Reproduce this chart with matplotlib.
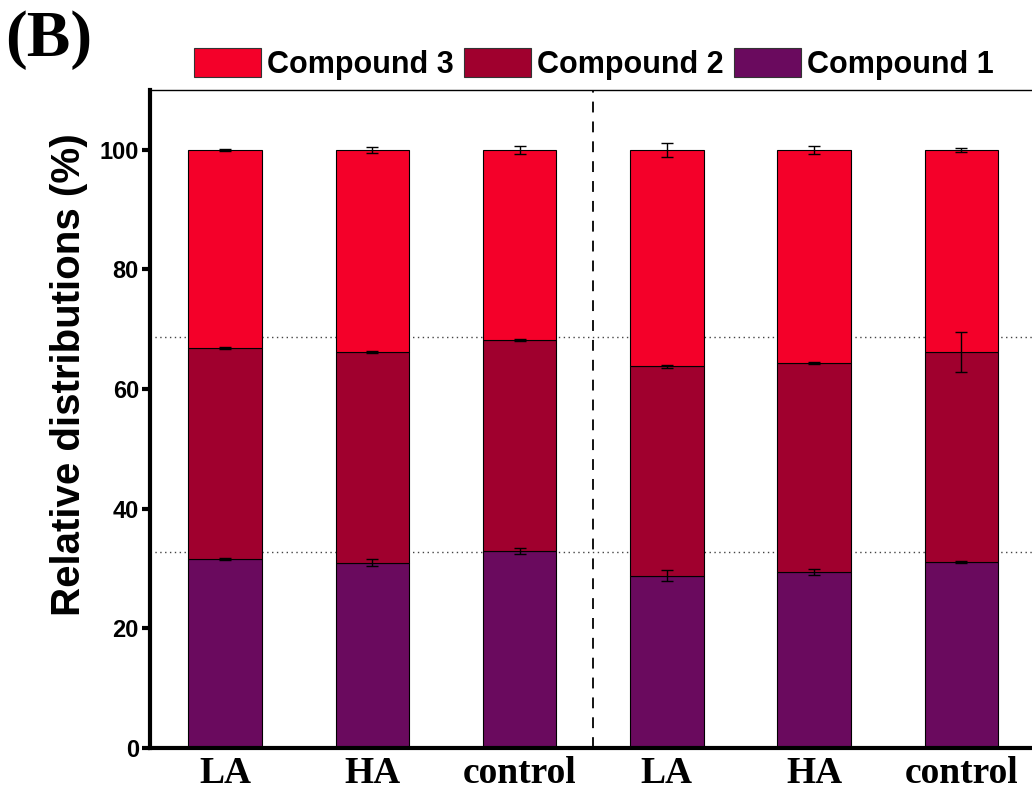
import matplotlib
matplotlib.use("Agg")
import matplotlib.pyplot as plt
import numpy as np
from matplotlib.patches import Patch

categories = ['LA', 'HA', 'control', 'LA', 'HA', 'control']
compound1 = [31.6, 31.0, 32.9, 28.8, 29.4, 31.1]
compound2 = [35.3, 35.2, 35.3, 35.0, 35.0, 35.1]
compound3 = [33.1, 33.8, 31.8, 36.2, 35.6, 33.8]
err1 = [0.15, 0.6, 0.5, 0.9, 0.5, 0.2]
err2 = [0.15, 0.1, 0.15, 0.2, 0.15, 3.4]
err3 = [0.15, 0.55, 0.7, 1.2, 0.7, 0.3]
ref_lines = [68.7, 32.8]
series_names = ['Compound 1', 'Compound 2', 'Compound 3']
colors = ['#6a0a5e', '#a0002e', '#f40029']

fig = plt.figure(figsize=(10.32, 7.91), dpi=100)
ax = fig.add_axes([150/1032, 1-748/791, 1-150/1032, (748-90)/791])

x = np.arange(len(categories))
w = 0.5
c1 = np.array(compound1); c2 = np.array(compound2); c3 = np.array(compound3)
bottoms = [np.zeros_like(c1), c1, c1 + c2]
vals = [c1, c2, c3]
errs = [err1, err2, err3]
for v, b, col in zip(vals, bottoms, colors):
    ax.bar(x, v, w, bottom=b, color=col, edgecolor='black', linewidth=0.8, zorder=2)
for v, b, e in zip(vals, bottoms, errs):
    ax.errorbar(x, b + v, yerr=e, fmt='none', ecolor='black', elinewidth=1.0,
                capsize=4, capthick=1.0, zorder=3)

for r in ref_lines:
    ax.axhline(r, color='#444444', linestyle=(0, (1, 2.5)), linewidth=1.0, zorder=1)
ax.axvline(2.5, color='black', linestyle=(0, (6, 5)), linewidth=1.3, zorder=1)

ax.set_xlim(-0.51, 5.48)
ax.set_ylim(0, 110)
ax.set_yticks([0, 20, 40, 60, 80, 100])
ax.set_xticks(x)
ax.set_xticklabels(categories, fontfamily='Liberation Serif', fontweight='bold', fontsize=27)
for lab in ax.get_yticklabels():
    lab.set_fontfamily('Liberation Sans'); lab.set_fontweight('bold'); lab.set_fontsize(17)
ax.tick_params(axis='y', direction='out', length=6, width=3, pad=2)
ax.tick_params(axis='x', length=0, pad=6)
ax.spines['right'].set_visible(False)
ax.spines['top'].set_linewidth(1.0)
ax.spines['left'].set_linewidth(3)
ax.spines['bottom'].set_linewidth(3)

fig.text(69/1032, 1-375/791, 'Relative distributions (%)', fontfamily='Liberation Sans',
         fontweight='bold', fontsize=29, rotation=90, ha='center', va='center')

fig.text(5/1032, 1-56/791, '(B)', fontfamily='Liberation Serif', fontweight='bold', fontsize=47)

handles = [Patch(facecolor=colors[i], edgecolor='#333333', linewidth=0.8) for i in [2, 1, 0]]
labels = [series_names[i] for i in [2, 1, 0]]
fig.legend(handles, labels, loc='center', bbox_to_anchor=(594/1032, 1-64/791), ncol=3,
           frameon=False, prop={'family': 'Liberation Sans', 'weight': 'bold', 'size': 22},
           handlelength=2.2, handleheight=1.08, handletextpad=0.2, columnspacing=0.33,
           borderpad=0)

fig.savefig('out.png', dpi=100)
